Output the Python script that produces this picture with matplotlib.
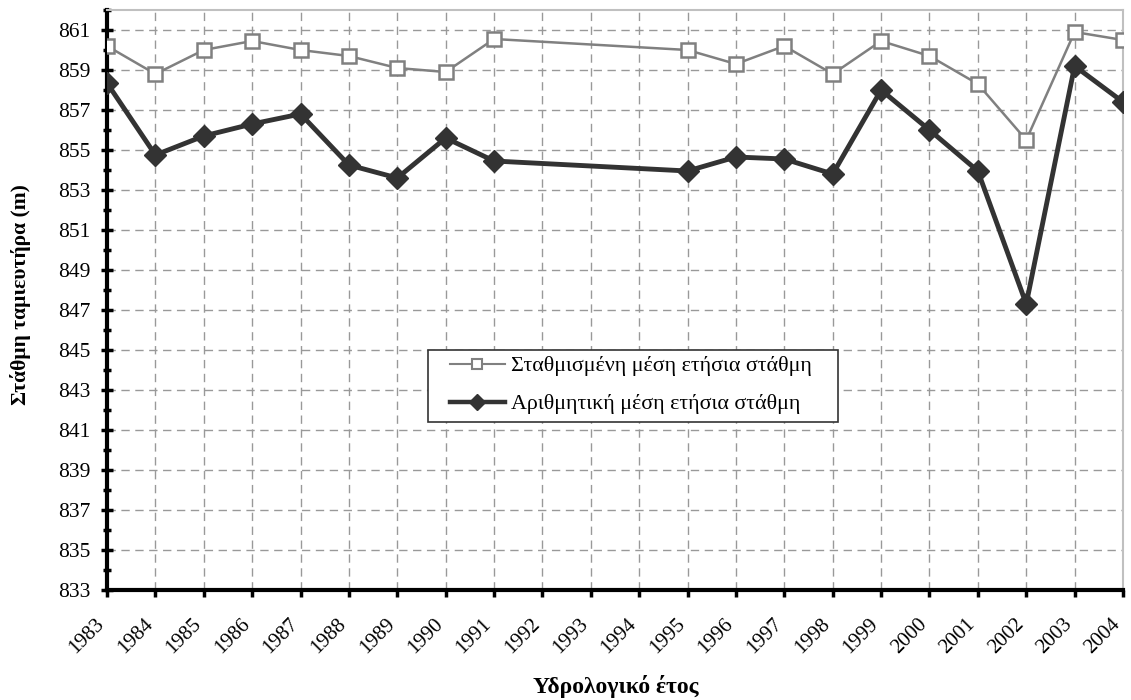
import numpy as np
import matplotlib
matplotlib.use("Agg")
import matplotlib.pyplot as plt
from matplotlib.ticker import MultipleLocator
from matplotlib.transforms import ScaledTranslation
from matplotlib.lines import Line2D
from matplotlib.patches import Rectangle

plt.rcParams['font.family'] = ['Liberation Serif', 'DejaVu Serif']

years = [str(y) for y in range(1983, 2005)]
data_years = [1983, 1984, 1985, 1986, 1987, 1988, 1989, 1990, 1991,
              1995, 1996, 1997, 1998, 1999, 2000, 2001, 2002, 2003, 2004]
weighted = [860.2, 858.8, 860.0, 860.45, 860.0, 859.7, 859.1, 858.9, 860.55,
            860.0, 859.3, 860.2, 858.8, 860.45, 859.7, 858.3, 855.5, 860.9, 860.5]
arithmetic = [858.35, 854.75, 855.7, 856.3, 856.8, 854.25, 853.6, 855.6, 854.45,
              853.95, 854.65, 854.55, 853.8, 858.0, 856.0, 853.95, 847.3, 859.2, 857.4]

label_w = 'Σταθμισμένη μέση ετήσια στάθμη'
label_a = 'Αριθμητική μέση ετήσια στάθμη'

W, H = 1131, 700
fig = plt.figure(figsize=(W/100, H/100), dpi=100)
ax = fig.add_axes([107/W, 1 - 590/H, (1123-107)/W, (590-10)/H])

xpos = [years.index(str(y)) for y in data_years]

ax.plot(xpos, weighted, color='#808080', lw=1.8, marker='s', ms=10.5,
        mfc='white', mec='#808080', mew=1.8, zorder=3)
ax.plot(xpos, arithmetic, color='#333333', lw=3.5, marker='D', ms=11,
        mfc='#333333', mec='#333333', zorder=4)

ax.set_xlim(0, len(years) - 1)
ax.set_ylim(833, 862)
ax.set_xticks(range(len(years)))
ax.set_xticklabels(years, rotation=45, ha='right', rotation_mode='anchor')
ax.yaxis.set_minor_locator(MultipleLocator(1))
ax.set_yticks(np.arange(833, 862, 2))
ax.tick_params(axis='y', which='major', direction='inout', length=8, width=2.5, labelsize=15.5, pad=8)
ax.tick_params(axis='y', which='minor', direction='inout', length=6, width=2.5)
ax.tick_params(axis='x', which='major', direction='out', length=5, width=2.5, labelsize=15, pad=13)

ax.grid(True, which='major', linestyle=(0, (6, 4)), color='#999999', lw=1)
ax.set_axisbelow(True)

for s in ['top', 'right']:
    ax.spines[s].set_color('#c0c0c0')
    ax.spines[s].set_linewidth(1.5)
for s in ['left', 'bottom']:
    ax.spines[s].set_color('black')
    ax.spines[s].set_linewidth(3)

ax.set_ylabel('Στάθμη ταμιευτήρα (m)', fontsize=15.5, fontweight='bold')
ax.yaxis.set_label_coords((31-107)/1016, (590-295)/580)
ax.set_xlabel('Υδρολογικό έτος', fontsize=17, fontweight='bold')
ax.xaxis.set_label_coords((616-107)/1016, (590-675)/580)

# legend
h_w = Line2D([], [], color='#808080', lw=1.5, marker='s', ms=7, mfc='white', mec='#808080', mew=1.5)
h_a = Line2D([], [], color='#333333', lw=3.2, marker='D', ms=8, mfc='#333333', mec='#333333')
leg = ax.legend([h_w, h_a], [label_w, label_a], loc='upper left',
                bbox_to_anchor=(450/W, 1 - 356/H), bbox_transform=fig.transFigure,
                fontsize=15.8, frameon=False, handlelength=2.5, borderpad=0,
                borderaxespad=0, labelspacing=0.8, handletextpad=0.3)
leg.set_zorder(6)
ax.add_patch(Rectangle((428/W, 1 - 422/H), 410/W, 72/H, transform=fig.transFigure,
                       fill=True, facecolor='white', edgecolor='#333333', lw=1.2,
                       zorder=5, clip_on=False))

offset = ScaledTranslation(-12/100, 0, fig.dpi_scale_trans)
for t in ax.xaxis.get_major_ticks():
    t.label1.set_transform(t.label1.get_transform() + offset)

fig.savefig('out.png', dpi=100)
